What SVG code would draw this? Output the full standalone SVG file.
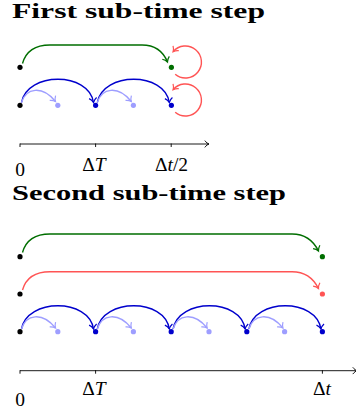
<svg xmlns="http://www.w3.org/2000/svg" width="356" height="410" viewBox="0 0 356 410">
<style>
.title{font-family:"Liberation Serif",serif;font-weight:bold;font-size:21px;fill:#000}
.lbl{font-family:"Liberation Serif",serif;font-size:19.5px;fill:#000}
.it{font-style:italic}
.c{fill:none;stroke-width:1.4}
.g{stroke:#006e00}
.r{stroke:#ff5454}
.b{stroke:#0000cc}
.lb{stroke:#9e9eff}
.ax{fill:none;stroke:#000;stroke-width:0.9}
</style>
<defs>
<marker id="ag" viewBox="-6 -5 8 10" markerWidth="8" markerHeight="10" markerUnits="userSpaceOnUse" refX="0" refY="0" orient="auto"><path d="M-4.5,-3.8 C-3,-1.6 -1.2,-0.5 0,0 C-1.2,0.5 -3,1.6 -4.5,3.8" fill="none" stroke="#006e00" stroke-width="1.2"/></marker>
<marker id="ar" viewBox="-6 -5 8 10" markerWidth="8" markerHeight="10" markerUnits="userSpaceOnUse" refX="0" refY="0" orient="auto"><path d="M-4.5,-3.8 C-3,-1.6 -1.2,-0.5 0,0 C-1.2,0.5 -3,1.6 -4.5,3.8" fill="none" stroke="#ff5454" stroke-width="1.2"/></marker>
<marker id="ab" viewBox="-6 -5 8 10" markerWidth="8" markerHeight="10" markerUnits="userSpaceOnUse" refX="0" refY="0" orient="auto"><path d="M-4.5,-3.8 C-3,-1.6 -1.2,-0.5 0,0 C-1.2,0.5 -3,1.6 -4.5,3.8" fill="none" stroke="#0000cc" stroke-width="1.2"/></marker>
<marker id="alb" viewBox="-6 -5 8 10" markerWidth="8" markerHeight="10" markerUnits="userSpaceOnUse" refX="0" refY="0" orient="auto"><path d="M-4.5,-3.8 C-3,-1.6 -1.2,-0.5 0,0 C-1.2,0.5 -3,1.6 -4.5,3.8" fill="none" stroke="#9e9eff" stroke-width="1.2"/></marker>
<marker id="ak" viewBox="-6 -5 8 10" markerWidth="8" markerHeight="10" markerUnits="userSpaceOnUse" refX="0" refY="0" orient="auto"><path d="M-4.2,-3.4 C-2.8,-1.4 -1.1,-0.4 0,0 C-1.1,0.4 -2.8,1.4 -4.2,3.4" fill="none" stroke="#000" stroke-width="0.9"/></marker>
</defs>

<text class="title" x="12" y="17.5" textLength="253" lengthAdjust="spacingAndGlyphs">First sub-time step</text>
<text class="title" x="12" y="199.5" textLength="274" lengthAdjust="spacingAndGlyphs">Second sub-time step</text>

<g id="connectors">
<!-- section 1 -->
<path class="c g" d="M22.5,63.5 C26,51 35,45 50,45 L142,45 C155,45 163,51 167.5,62" marker-end="url(#ag)"/>
<path class="c b" d="M21.5,102.5 C27,71.5 89,71.5 93.5,102.5" marker-end="url(#ab)"/>
<path class="c b" d="M97.3,102.5 C102.8,71.5 164.8,71.5 169.3,102.5" marker-end="url(#ab)"/>
<path class="c lb" d="M21.5,102.5 C26,88 42,85 55.5,101.5" marker-end="url(#alb)"/>
<path class="c lb" d="M97.3,102.5 C101.8,88 117.8,85 131.3,101.5" marker-end="url(#alb)"/>
<path class="c r" d="M175.2,74.3 A16,16 0 1 0 173.1,51.8" marker-end="url(#ar)"/>
<path class="c r" d="M175.2,112.3 A16,16 0 1 0 173.1,89.8" marker-end="url(#ar)"/>
<!-- section 2 -->
<path class="c g" d="M22.5,252.5 C26,240 35,234 50,234 L292,234 C305,234 313,240 318.5,251" marker-end="url(#ag)"/>
<path class="c r" d="M22.5,290 C26,277.5 35,271.7 50,271.7 L292,271.7 C305,271.7 313,277.5 318.5,288.5" marker-end="url(#ar)"/>
<path class="c b" d="M21.5,329 C27,298 89,298 93.5,329" marker-end="url(#ab)"/>
<path class="c b" d="M97.3,329 C102.8,298 164.8,298 169.3,329" marker-end="url(#ab)"/>
<path class="c b" d="M173.1,329 C178.6,298 240.6,298 245.1,329" marker-end="url(#ab)"/>
<path class="c b" d="M248.9,329 C254.4,298 316.4,298 320.9,329" marker-end="url(#ab)"/>
<path class="c lb" d="M21.5,329 C26,314.5 42,311.5 55.5,328" marker-end="url(#alb)"/>
<path class="c lb" d="M97.3,329 C101.8,314.5 117.8,311.5 131.3,328" marker-end="url(#alb)"/>
<path class="c lb" d="M173.1,329 C177.6,314.5 193.6,311.5 207.1,328" marker-end="url(#alb)"/>
<path class="c lb" d="M248.9,329 C253.4,314.5 269.4,311.5 282.9,328" marker-end="url(#alb)"/>
</g>

<g id="axis1">
<path class="ax" d="M20,144 H209" marker-end="url(#ak)"/>
<path class="ax" d="M20,143.5 V147 M95.6,143.5 V147 M171.2,143.5 V147"/>
<text class="lbl" x="20" y="175.5" text-anchor="middle">0</text>
<text class="lbl" x="94" y="170.5" text-anchor="middle">Δ<tspan class="it">T</tspan></text>
<text class="lbl" x="171.5" y="170.5" text-anchor="middle">Δ<tspan class="it">t</tspan>/2</text>
</g>
<g id="axis2">
<path class="ax" d="M20,370.7 H357" marker-end="url(#ak)"/>
<path class="ax" d="M20,370.2 V373.7 M95.6,370.2 V373.7 M322.4,370.2 V373.7"/>
<text class="lbl" x="20" y="405.5" text-anchor="middle">0</text>
<text class="lbl" x="94" y="395" text-anchor="middle">Δ<tspan class="it">T</tspan></text>
<text class="lbl" x="322" y="395" text-anchor="middle">Δ<tspan class="it">t</tspan></text>
</g>

<g id="n-s1-a0"><circle cx="20" cy="67.3" r="2.6" fill="#000"/></g>
<g id="n-s1-a1"><circle cx="171.4" cy="67.3" r="2.6" fill="#006e00"/></g>
<g id="n-s1-b0"><circle cx="20" cy="105.3" r="2.6" fill="#000"/></g>
<g id="n-s1-b1"><circle cx="57.8" cy="105.3" r="2.6" fill="#9e9eff"/></g>
<g id="n-s1-b2"><circle cx="95.6" cy="105.3" r="2.6" fill="#0000cc"/></g>
<g id="n-s1-b3"><circle cx="133.4" cy="105.3" r="2.6" fill="#9e9eff"/></g>
<g id="n-s1-b4"><circle cx="171.4" cy="105.3" r="2.6" fill="#0000cc"/></g>

<g id="n-s2-a0"><circle cx="20" cy="256.7" r="2.6" fill="#000"/></g>
<g id="n-s2-a1"><circle cx="322.4" cy="256.7" r="2.6" fill="#006e00"/></g>
<g id="n-s2-r0"><circle cx="20" cy="294" r="2.6" fill="#000"/></g>
<g id="n-s2-r1"><circle cx="322.4" cy="294" r="2.6" fill="#ff5454"/></g>
<g id="n-s2-b0"><circle cx="20" cy="331.7" r="2.6" fill="#000"/></g>
<g id="n-s2-b1"><circle cx="57.8" cy="331.7" r="2.6" fill="#9e9eff"/></g>
<g id="n-s2-b2"><circle cx="95.6" cy="331.7" r="2.6" fill="#0000cc"/></g>
<g id="n-s2-b3"><circle cx="133.4" cy="331.7" r="2.6" fill="#9e9eff"/></g>
<g id="n-s2-b4"><circle cx="171.2" cy="331.7" r="2.6" fill="#0000cc"/></g>
<g id="n-s2-b5"><circle cx="209" cy="331.7" r="2.6" fill="#9e9eff"/></g>
<g id="n-s2-b6"><circle cx="246.8" cy="331.7" r="2.6" fill="#0000cc"/></g>
<g id="n-s2-b7"><circle cx="284.6" cy="331.7" r="2.6" fill="#9e9eff"/></g>
<g id="n-s2-b8"><circle cx="322.4" cy="331.7" r="2.6" fill="#0000cc"/></g>
</svg>
